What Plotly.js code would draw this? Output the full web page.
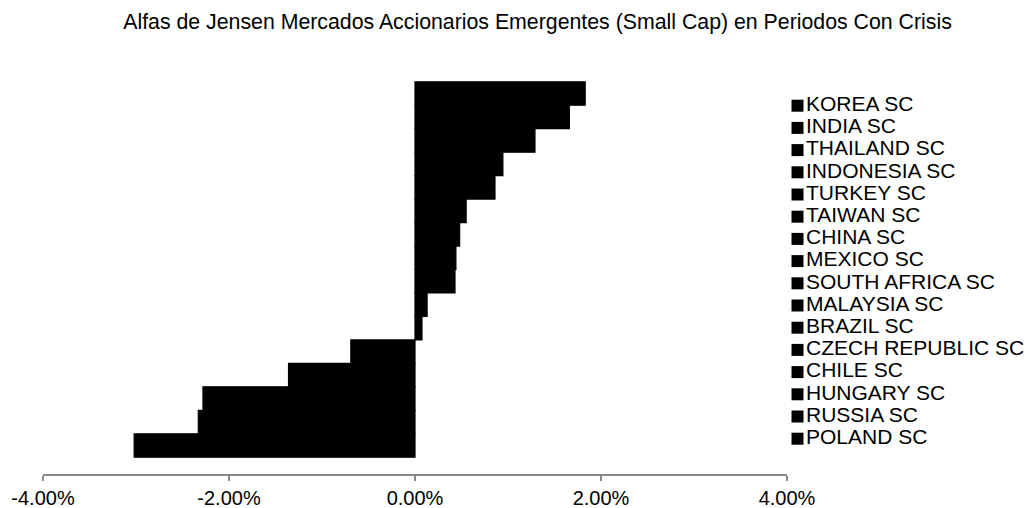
<!DOCTYPE html>
<html>
<head>
<meta charset="utf-8">
<script src="https://cdn.plot.ly/plotly-3.0.1.min.js"></script>
<style>html,body{margin:0;padding:0;background:#fff;}#chart{width:1029px;height:508px;}</style>
</head>
<body>
<div id="chart"></div>
<script>
// Categories in the order of the legend (top to bottom)
const countries = ["KOREA SC","INDIA SC","THAILAND SC","INDONESIA SC","TURKEY SC","TAIWAN SC","CHINA SC","MEXICO SC","SOUTH AFRICA SC","MALAYSIA SC","BRAZIL SC","CZECH REPUBLIC SC","CHILE SC","HUNGARY SC","RUSSIA SC","POLAND SC"];
// Jensen's alpha (fraction)
const alphas = [0.0183,0.0166,0.0129,0.00945,0.0086,0.0055,0.0048,0.0044,0.0043,0.0013,0.00075,-0.0069,-0.0136,-0.0228,-0.0233,-0.0302];
const tickValues = [-0.04,-0.02,0,0.02,0.04];
const tickLabels = ["-4.00%","-2.00%","0.00%","2.00%","4.00%"];
const titleText = "Alfas de Jensen Mercados Accionarios Emergentes (Small Cap) en Periodos Con Crisis";

const FONT = "'Liberation Sans', Arial, sans-serif";
const W = 1029, H = 508;
const mL = 43, mR = 2, mT = 65, mB = 34;
const plotW = W - mL - mR;
const mainEnd = (787 - mL) / plotW;

const traces = [];
// Bars: first trace sits at the bottom in grouped horizontal bars
for (let i = countries.length - 1; i >= 0; i--) {
  traces.push({
    type: 'bar', orientation: 'h',
    name: countries[i],
    x: [alphas[i]], y: [0],
    marker: {color: '#000000', line: {width: 1.2, color: '#000000'}},
    showlegend: false,
    hoverinfo: 'name+x',
    xaxis: 'x', yaxis: 'y'
  });
}
// Legend column (square key + label), one row per category
traces.push({
  type: 'scatter', mode: 'markers+text',
  x: countries.map(() => 0),
  y: countries.map((c, i) => i),
  text: countries,
  textposition: 'middle right',
  textfont: {family: FONT, size: 21, color: '#000000'},
  marker: {symbol: 'square', size: 12, color: '#000000'},
  showlegend: false, hoverinfo: 'skip',
  cliponaxis: false,
  xaxis: 'x2', yaxis: 'y2'
});

const legTop = 105.7, legStep = 22.2;
const legBottom = legTop + legStep * (countries.length - 1);
const y2min = -(legTop - mT) / legStep;
const y2max = (countries.length - 1) + (H - mB - legBottom) / legStep;

const layout = {
  width: W, height: H,
  margin: {l: mL, r: mR, t: mT, b: mB, pad: 0},
  paper_bgcolor: '#ffffff', plot_bgcolor: 'rgba(0,0,0,0)',
  font: {family: FONT, size: 21, color: '#000000'},
  title: {
    text: titleText,
    font: {family: FONT, size: 21.3, color: '#000000'},
    xref: 'container', yref: 'container',
    x: 537.5 / W, xanchor: 'center',
    y: 1 - 22 / H, yanchor: 'middle'
  },
  barmode: 'group', bargap: 0.082, bargroupgap: 0,
  showlegend: false,
  xaxis: {
    domain: [0, mainEnd],
    range: [-0.04, 0.04],
    tickmode: 'array', tickvals: tickValues, ticktext: tickLabels,
    showgrid: false, zeroline: false,
    showline: true, linecolor: '#898989', linewidth: 1.5,
    ticks: 'outside', ticklen: 5, tickcolor: '#898989', tickwidth: 1.5,
    tickfont: {family: FONT, size: 20, color: '#000000'},
    fixedrange: true
  },
  yaxis: {
    range: [-0.5, 0.5], visible: false, showgrid: false, zeroline: false, fixedrange: true
  },
  xaxis2: {
    domain: [mainEnd + 0.001, 1], anchor: 'y2',
    range: [-9.5, 229], visible: false, showgrid: false, zeroline: false, fixedrange: true
  },
  yaxis2: {
    anchor: 'x2', range: [y2max, y2min],
    visible: false, showgrid: false, zeroline: false, fixedrange: true
  }
};

Plotly.newPlot('chart', traces, layout, {displayModeBar: false, staticPlot: true});
</script>
</body>
</html>
